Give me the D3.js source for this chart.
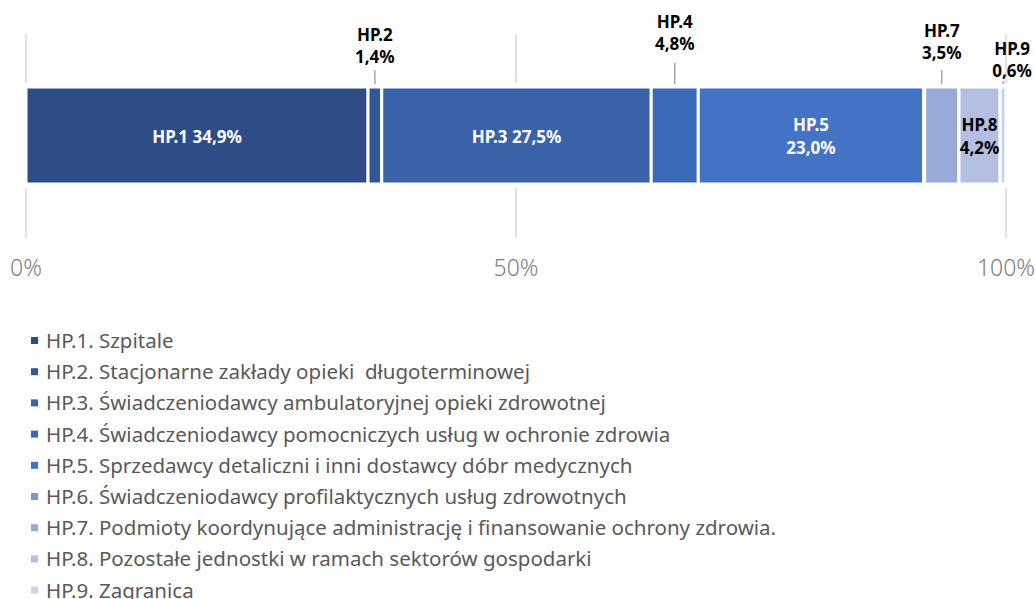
<!DOCTYPE html>
<html lang="pl">
<head>
<meta charset="utf-8">
<script src="https://cdn.jsdelivr.net/npm/d3@7"></script>
<style>
  html, body { margin: 0; padding: 0; background: #fff; }
  svg { display: block; font-family: "Noto Sans", "Open Sans", sans-serif; }
</style>
</head>
<body>
<svg id="chart" width="1035" height="599"></svg>
<script>
// ---- dane ----
const categories = ["HP.1", "HP.2", "HP.3", "HP.4", "HP.5", "HP.6", "HP.7", "HP.8", "HP.9"];
const shares = [34.9, 1.4, 27.5, 4.8, 23.0, 0.1, 3.5, 4.2, 0.6];
const legendLabels = [
  "HP.1. Szpitale",
  "HP.2. Stacjonarne zakłady opieki  długoterminowej",
  "HP.3. Świadczeniodawcy ambulatoryjnej opieki zdrowotnej",
  "HP.4. Świadczeniodawcy pomocniczych usług w ochronie zdrowia",
  "HP.5. Sprzedawcy detaliczni i inni dostawcy dóbr medycznych",
  "HP.6. Świadczeniodawcy profilaktycznych usług zdrowotnych",
  "HP.7. Podmioty koordynujące administrację i finansowanie ochrony zdrowia.",
  "HP.8. Pozostałe jednostki w ramach sektorów gospodarki",
  "HP.9. Zagranica"
];
const tickValues = [0, 50, 100];

// ---- wygląd ----
const colors = ["#2e4d87", "#30579a", "#3a62a8", "#3c69b7", "#4472c4", "#7b95d0", "#98aad8", "#b3bfe1", "#ccd3ea"];
const barTop = 87, barBottom = 184;
const fmt = v => v.toFixed(1).replace(".", ",") + "%";

// jak podpisać każdy segment
const labelMode = {
  "HP.1": "inline", "HP.3": "inline",
  "HP.5": "inside", "HP.8": "insideDark",
  "HP.2": "above", "HP.4": "above", "HP.7": "above", "HP.9": "above"
};
// podpisy nad słupkiem: odległość (od góry słupka) linii bazowej 2. wiersza i końca linii odniesienia
const aboveOffsets = {
  "HP.2": { base: 24, lead: 17, dx: 0 },
  "HP.4": { base: 37, lead: 24, dx: 0 },
  "HP.7": { base: 28, lead: 17, dx: 0 },
  "HP.9": { base: 10, lead: 6, dx: 9 }
};

const svg = d3.select("#chart");
const x = d3.scaleLinear().domain([0, 100]).range([26, 1006]);

// skumulowane pozycje
let acc = 0;
const segs = categories.map((c, i) => {
  const s = { cat: c, value: shares[i], x0: acc, x1: acc + shares[i], color: colors[i] };
  acc += shares[i];
  return s;
});

// linie siatki
svg.append("g").selectAll("line").data(tickValues).join("line")
  .attr("x1", d => x(d)).attr("x2", d => x(d))
  .attr("y1", 34).attr("y2", 238)
  .attr("stroke", "#d9d9d9").attr("stroke-width", 1.5);

// biały pas pod słupkiem (odstęp od siatki)
svg.append("rect")
  .attr("x", x(0) - 4).attr("y", barTop - 4)
  .attr("width", x(100) - x(0) + 8).attr("height", barBottom - barTop + 8)
  .attr("fill", "#fff");

// etykiety osi
svg.append("g").selectAll("text").data(tickValues).join("text")
  .attr("x", d => x(d)).attr("y", 276)
  .attr("text-anchor", "middle")
  .attr("font-size", 23).attr("font-weight", 300)
  .attr("fill", "#808080")
  .text(d => d + "%");

// segmenty
svg.append("g").selectAll("rect").data(segs).join("rect")
  .attr("x", d => x(d.x0)).attr("y", barTop)
  .attr("width", d => Math.max(0, x(d.x1) - x(d.x0)))
  .attr("height", barBottom - barTop)
  .attr("fill", d => d.color)
  .attr("stroke", "#fff").attr("stroke-width", 3);

// podpisy
const lbl = svg.append("g").attr("font-size", 17).attr("font-weight", 700).attr("text-anchor", "middle");
const mid = (barTop + barBottom) / 2;
segs.forEach(s => {
  const mode = labelMode[s.cat];
  const cx = x((s.x0 + s.x1) / 2);
  if (mode === "inline") {
    lbl.append("text").attr("x", cx).attr("y", mid + 7).attr("fill", "#fff")
      .text(s.cat + " " + fmt(s.value));
  } else if (mode === "inside" || mode === "insideDark") {
    const t = lbl.append("text").attr("x", cx).attr("y", mid - 5)
      .attr("fill", mode === "inside" ? "#fff" : "#000");
    t.append("tspan").attr("x", cx).text(s.cat);
    t.append("tspan").attr("x", cx).attr("dy", 23).text(fmt(s.value));
  } else if (mode === "above") {
    const o = aboveOffsets[s.cat];
    svg.append("line")
      .attr("x1", cx).attr("x2", cx)
      .attr("y1", barTop - o.lead).attr("y2", barTop - 3)
      .attr("stroke", "#a6a6a6").attr("stroke-width", 1.5);
    const t = lbl.append("text").attr("fill", "#000").attr("y", barTop - o.base - 22);
    t.append("tspan").attr("x", cx + o.dx).text(s.cat);
    t.append("tspan").attr("x", cx + o.dx).attr("dy", 22).text(fmt(s.value));
  }
});

// legenda
const legend = svg.append("g").selectAll("g").data(legendLabels).join("g")
  .attr("transform", (d, i) => `translate(0, ${348 + i * 31.2})`);
legend.append("rect")
  .attr("x", 31).attr("y", -11).attr("width", 7).attr("height", 7)
  .attr("fill", (d, i) => colors[i]);
legend.append("text")
  .attr("x", 46).attr("y", 0)
  .attr("font-size", 20.5).attr("fill", "#595959")
  .style("white-space", "pre")
  .attr("xml:space", "preserve")
  .text(d => d);
</script>
</body>
</html>
